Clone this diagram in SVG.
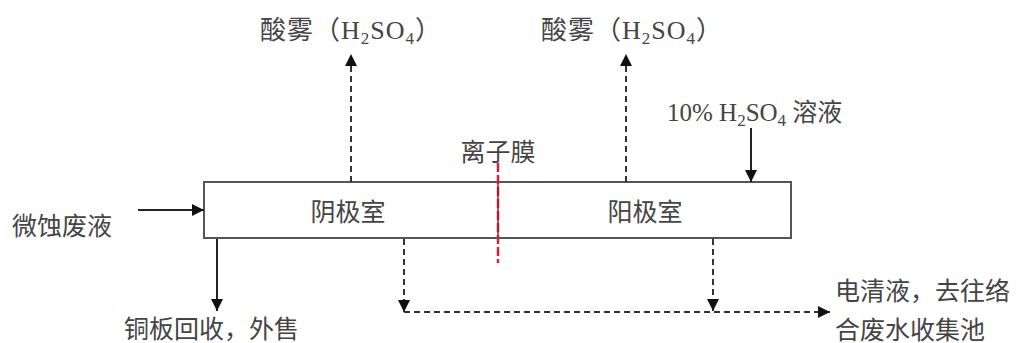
<svg xmlns="http://www.w3.org/2000/svg" width="1022" height="343" viewBox="0 0 1022 343">
<defs>
<style>
.t{font-family:"Liberation Serif","Noto Sans CJK SC",serif;font-size:25px;fill:#444;}
.m{font-size:26px;letter-spacing:1px;}
.s{font-size:17px;}
.ln{stroke:#222;stroke-width:2;fill:none;}
.dl{stroke:#333;stroke-width:2;fill:none;stroke-dasharray:6 4;}
.box{fill:#fff;stroke:#555;stroke-width:2;}
.mem{stroke:#d8203a;stroke-width:2.5;fill:none;stroke-dasharray:9 3;}
</style>
<marker id="ah" markerUnits="userSpaceOnUse" viewBox="0 0 10 10" refX="10" refY="5" markerWidth="12" markerHeight="12" orient="auto">
<path d="M0,0 L10,5 L0,10 z" fill="#111"/>
</marker>
</defs>
<rect width="1022" height="343" fill="#fff"/>
<g id="cell">
<rect class="box" x="204" y="182" width="587" height="56"/>
<text class="t" x="348" y="221" text-anchor="middle">阴极室</text>
<text class="t" x="645" y="221" text-anchor="middle">阳极室</text>
</g>
<g id="mist1"><text class="t m" x="260" y="39">酸雾（H<tspan class="s" dy="5">2</tspan><tspan dy="-5">SO</tspan><tspan class="s" dy="5">4</tspan><tspan dy="-5">）</tspan></text></g>
<g id="mist2"><text class="t m" x="541" y="39">酸雾（H<tspan class="s" dy="5">2</tspan><tspan dy="-5">SO</tspan><tspan class="s" dy="5">4</tspan><tspan dy="-5">）</tspan></text></g>
<g id="acid"><text class="t" x="667" y="121">10% H<tspan class="s" dy="5">2</tspan><tspan dy="-5">SO</tspan><tspan class="s" dy="5">4</tspan><tspan dy="-5"> 溶液</tspan></text></g>
<g id="input"><text class="t" x="12" y="235">微蚀废液</text></g>
<g id="copper"><text class="t" x="124" y="338">铜板回收，外售</text></g>
<g id="output"><text class="t" x="835" y="300">电清液，去往络</text><text class="t" x="835" y="339">合废水收集池</text></g>
<g id="connectors">
<line class="ln" x1="138" y1="210" x2="204" y2="210" marker-end="url(#ah)"/>
<line class="ln" x1="751" y1="128" x2="751" y2="182" marker-end="url(#ah)"/>
<line class="ln" x1="217" y1="239" x2="217" y2="311" marker-end="url(#ah)"/>
<line class="dl" x1="351" y1="182" x2="351" y2="54" marker-end="url(#ah)"/>
<line class="dl" x1="626" y1="182" x2="626" y2="54" marker-end="url(#ah)"/>
<line class="dl" x1="404" y1="239" x2="404" y2="312" marker-end="url(#ah)"/>
<line class="dl" x1="713" y1="239" x2="713" y2="311" marker-end="url(#ah)"/>
<line class="dl" x1="404" y1="312" x2="830" y2="312" marker-end="url(#ah)"/>
</g>
<g id="membrane">
<text class="t" x="498" y="161" text-anchor="middle">离子膜</text>
<line class="mem" x1="498" y1="163" x2="498" y2="263"/>
<line x1="498" y1="183" x2="498" y2="237" stroke="#9a2030" stroke-width="1.5"/>
</g>
</svg>
